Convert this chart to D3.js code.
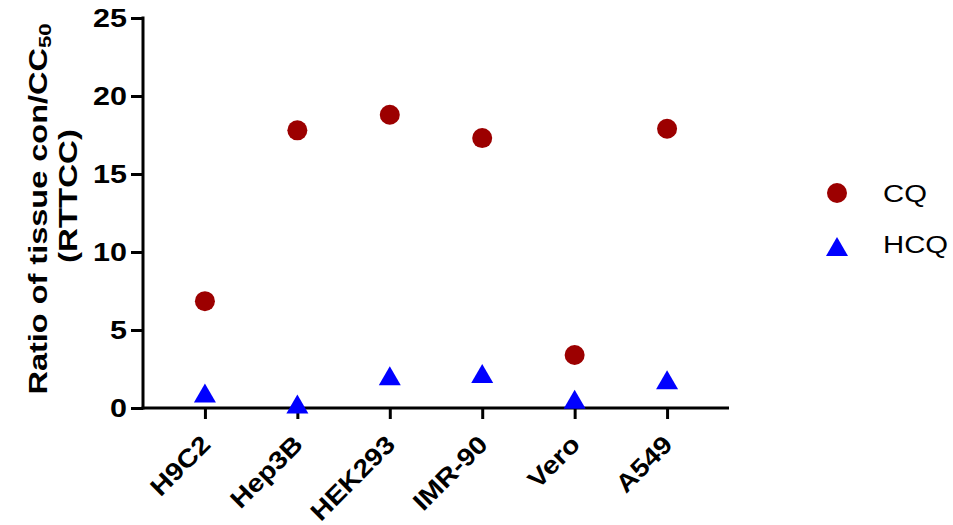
<html>

<head>
    <script src="https://d3js.org/d3.v7.min.js"></script>
    <style>
        * {
            font-family: Arial, "Liberation Sans", sans-serif;
        }

        body {
            margin: 0px;
            background-color: white;
        }

        .axis path,
        .axis line {
            stroke: black;
            stroke-width: 3;
        }

        .axis text {
            font-size: 25px;
            font-weight: bold;
            fill: black;
        }

        .label {
            font-size: 25px;
            font-weight: bold;
        }

        .legendText {
            font-size: 24px;
        }
    </style>
</head>

<body>
    <svg id="scatter" height="525" width="953"></svg>
</body>

<script>
    // cell lines and ratio values
    const cellLines = ["H9C2", "Hep3B", "HEK293", "IMR-90", "Vero", "A549"];
    const cqValues = [6.85, 17.8, 18.8, 17.3, 3.4, 17.9];
    const hcqValues = [0.8, 0.1, 1.9, 2.05, 0.4, 1.65];
    const yTicks = [0, 5, 10, 15, 20, 25];

    // the original lettering is wider than Arial, so text gets stretched along its baseline
    const stretch = 1.22;

    const svg = d3.select("#scatter");
    const margin = { top: 18, left: 143, bottom: 117, right: 224 };
    const width = svg.attr("width");
    const height = svg.attr("height");
    const plotWidth = width - margin.left - margin.right;
    const plotHeight = height - margin.top - margin.bottom;

    const plot = svg.append("g").attr("transform", `translate(${margin.left},${margin.top})`);

    // scales
    const xScale = d3.scalePoint().domain(cellLines).range([0, plotWidth]).padding(0.67);
    const yScale = d3.scaleLinear().domain([0, 25]).range([plotHeight, 0]);

    // y axis
    let leftAxis = d3.axisLeft(yScale).tickValues(yTicks).tickSize(12).tickSizeOuter(0);
    plot.append("g")
        .attr("class", "y axis")
        .call(leftAxis)
        .call(g => g.select(".domain").attr("d", `M0,${plotHeight + 1.5}V-1.5`))
        .call(g => g.selectAll(".tick text")
            .attr("x", 0)
            .attr("transform", `translate(-16,0) scale(${stretch},1)`));

    // x axis
    let bottomAxis = d3.axisBottom(xScale).tickSize(11).tickSizeOuter(0).tickFormat("");
    let xAxis = plot.append("g")
        .attr("class", "x axis")
        .attr("transform", `translate(0,${plotHeight})`)
        .call(bottomAxis);
    xAxis.select(".domain").attr("d", `M-1.5,0H${plotWidth}`);

    // rotated category labels
    plot.append("g").selectAll("text").data(cellLines)
        .join("text")
        .attr("class", "label")
        .attr("text-anchor", "end")
        .attr("transform", d => `translate(${xScale(d) + 7},${plotHeight + 38}) rotate(-45) scale(1.14,1)`)
        .text(d => d);

    // CQ circles
    plot.selectAll("circle.cq").data(cellLines)
        .join("circle")
        .attr("class", "cq")
        .attr("r", 10)
        .attr("fill", "#9c0000")
        .attr("cx", d => xScale(d))
        .attr("cy", (d, i) => yScale(cqValues[i]));

    // HCQ triangles
    const triangle = "M0,-12L11,7H-11Z";
    plot.selectAll("path.hcq").data(cellLines)
        .join("path")
        .attr("class", "hcq")
        .attr("d", triangle)
        .attr("fill", "#0000ff")
        .attr("transform", (d, i) => `translate(${xScale(d)},${yScale(hcqValues[i])})`);

    // y axis title
    let yTitle = svg.append("text")
        .attr("class", "label")
        .attr("text-anchor", "middle")
        .attr("transform", "translate(47,209) rotate(-90) scale(1.3,1)");
    yTitle.append("tspan").text("Ratio of tissue con/CC");
    yTitle.append("tspan").text("50").style("font-size", "17px").attr("dy", 4);
    svg.append("text")
        .attr("class", "label")
        .attr("text-anchor", "middle")
        .attr("transform", "translate(77,196) rotate(-90) scale(1.32,1)")
        .text("(RTTCC)");

    // legend
    let legend = svg.append("g");
    legend.append("circle").attr("cx", 837).attr("cy", 193).attr("r", 10).attr("fill", "#9c0000");
    legend.append("path").attr("d", triangle).attr("fill", "#0000ff").attr("transform", "translate(837,249)");
    legend.append("text").attr("class", "legendText")
        .attr("transform", "translate(883,202) scale(1.22,1)").text("CQ");
    legend.append("text").attr("class", "legendText")
        .attr("transform", "translate(883,253) scale(1.22,1)").text("HCQ");
</script>

</html>
